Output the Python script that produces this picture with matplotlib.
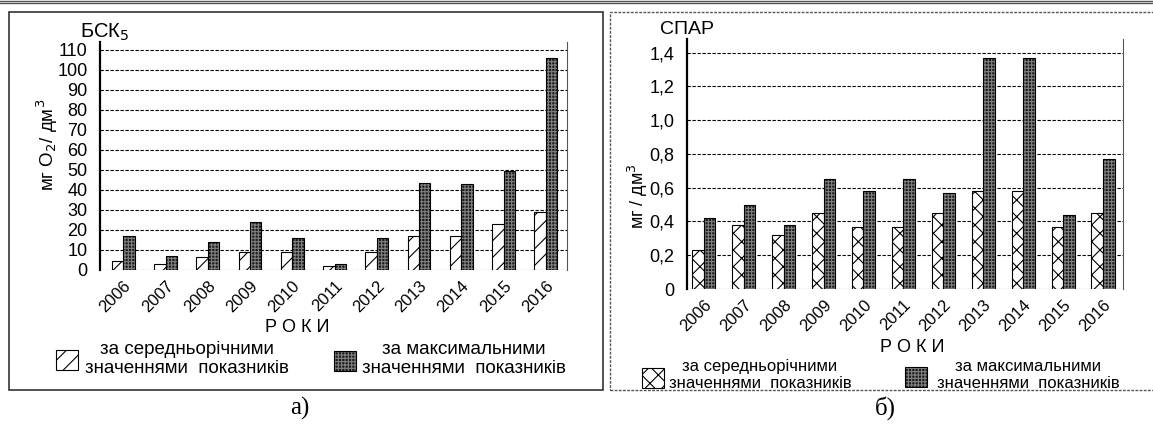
import numpy as np
import matplotlib
matplotlib.use("Agg")
from matplotlib import pyplot as plt
from matplotlib.patches import Rectangle
from matplotlib.lines import Line2D

plt.rcParams['font.family'] = ['Liberation Sans', 'DejaVu Sans']
plt.rcParams['hatch.linewidth'] = 0.8

years = ['2006', '2007', '2008', '2009', '2010', '2011', '2012', '2013', '2014', '2015', '2016']

# BSK5, mg O2 / dm3
bsk_avg = [4.5, 3, 6.5, 9, 9, 2, 9, 17, 17, 23, 29]
bsk_max = [17, 7, 14, 24, 16, 3, 16, 43.5, 43, 49.5, 106]

# SPAR, mg / dm3
spar_avg = [0.23, 0.38, 0.32, 0.45, 0.37, 0.37, 0.45, 0.58, 0.58, 0.37, 0.45]
spar_max = [0.42, 0.50, 0.38, 0.65, 0.58, 0.65, 0.57, 1.37, 1.37, 0.44, 0.77]

legend_avg = 'за середньорічними\nзначеннями  показників'
legend_max = 'за максимальними\nзначеннями  показників'

W, H = 1153, 425
DARK = '#1c1c1c'
DOTS = '#808080'


def fx(px):
    return px / W


def fy(py):
    return 1 - py / H


def max_bars(ax, x, vals, w):
    ax.bar(x, vals, w, color=DARK, edgecolor=DOTS, hatch='+++++', linewidth=0, zorder=3)
    ax.bar(x, vals, w, fill=False, edgecolor='black', linewidth=0.8, zorder=4)


def style_axes(ax, ymax, ticks, ticklabels):
    ax.set_ylim(0, ymax)
    ax.set_yticks(ticks)
    ax.set_yticklabels(ticklabels, fontsize=13)
    for t in ticks:
        ax.axhline(t, color='black', lw=0.8, ls=(0, (3, 1.5)), zorder=1)
    ax.spines['top'].set_visible(False)
    ax.spines['bottom'].set_visible(False)
    ax.spines['left'].set_linewidth(1.6)
    ax.spines['right'].set_color('#555555')
    ax.tick_params(axis='y', length=0, pad=9)
    ax.tick_params(axis='x', length=0, pad=6)
    ax.set_xticks(np.arange(len(years)))
    ax.set_xticklabels(years, rotation=45, ha='right', va='top', fontsize=12,
                       rotation_mode='anchor')


def legend_entry(fig, px, py, hatch, dark, text, tx, ty, size):
    box = ((fx(px), fy(py + 20)), fx(22), 20 / H)
    if dark:
        fig.patches.append(Rectangle(*box, transform=fig.transFigure,
                                     facecolor=DARK, edgecolor=DOTS, hatch='+++++', linewidth=0))
    else:
        fig.patches.append(Rectangle(*box, transform=fig.transFigure,
                                     facecolor='white', edgecolor='black', hatch=hatch, linewidth=0))
    fig.patches.append(Rectangle(*box, transform=fig.transFigure,
                                 fill=False, edgecolor='black', linewidth=0.8))
    fig.text(fx(tx), fy(ty), text, ha='center', va='center', fontsize=size, linespacing=1.1)


fig = plt.figure(figsize=(W / 100, H / 100), dpi=100)
x = np.arange(len(years))

# panel a) BSK5
w = 0.27
ax1 = fig.add_axes([fx(100), fy(270), fx(567 - 100), (270 - 42) / H])
ax1.bar(x - w / 2, bsk_avg, w, color='white', edgecolor='black', hatch='//', linewidth=0.8, zorder=3)
max_bars(ax1, x + w / 2, bsk_max, w)
ax1.set_xlim(-0.55, 10.5)
style_axes(ax1, 114, list(range(0, 111, 10)), [str(v) for v in range(0, 111, 10)])
ax1.set_ylabel('мг O$_2$/ дм$^3$', fontsize=13.5)
ax1.yaxis.set_label_coords(-0.086, 0.55)

# panel b) SPAR
w = 0.29
ax2 = fig.add_axes([fx(687), fy(289), fx(1123 - 687), (289 - 39) / H])
ax2.bar(x - w / 2, spar_avg, w, color='white', edgecolor='black', hatch='xx', linewidth=0.8, zorder=3)
max_bars(ax2, x + w / 2, spar_max, w)
ax2.set_xlim(-0.42, 10.5)
sticks = [0, 0.2, 0.4, 0.6, 0.8, 1.0, 1.2, 1.4]
style_axes(ax2, 1.48, sticks, ['0' if v == 0 else f'{v:.1f}'.replace('.', ',') for v in sticks])
ax2.set_ylabel('мг / дм$^3$', fontsize=13)
ax2.yaxis.set_label_coords(-0.085, 0.37)

# titles, axis names
fig.text(fx(80), fy(32), 'БСК$_5$', fontsize=14.5, va='center')
fig.text(fx(660), fy(30), 'СПАР', fontsize=14, va='center')
fig.text(fx(297), fy(328), 'Р О К И', fontsize=13, ha='center', va='center')
fig.text(fx(912), fy(347), 'Р О К И', fontsize=13, ha='center', va='center')

# legends
legend_entry(fig, 56, 350, '//', False, legend_avg, 187, 359, 13.5)
legend_entry(fig, 334, 351, None, True, legend_max, 464, 359, 13.5)
legend_entry(fig, 642, 368, 'xx', False, legend_avg, 760, 375, 12)
legend_entry(fig, 905, 367, None, True, legend_max, 1028, 375, 12)

# panel frames
fig.patches.append(Rectangle((fx(9), fy(390)), fx(603 - 9), (390 - 12) / H, transform=fig.transFigure,
                             fill=False, edgecolor='#333333', linewidth=1.2))
fig.patches.append(Rectangle((fx(610), fy(390)), fx(1160 - 610), (390 - 12) / H, transform=fig.transFigure,
                             fill=False, edgecolor='#555555', linewidth=1.0, linestyle=(0, (2, 1))))
fig.lines.append(Line2D([0, 1], [fy(0.5), fy(0.5)], transform=fig.transFigure, color='#555555', lw=1))
fig.lines.append(Line2D([0, 1], [fy(2.5), fy(2.5)], transform=fig.transFigure, color='#555555', lw=1))

fig.text(fx(300), fy(408), 'а)', fontsize=18, ha='center', va='center', family='Liberation Serif')
fig.text(fx(885), fy(408), 'б)', fontsize=18, ha='center', va='center', family='Liberation Serif')

fig.savefig('out.png', dpi=100)
